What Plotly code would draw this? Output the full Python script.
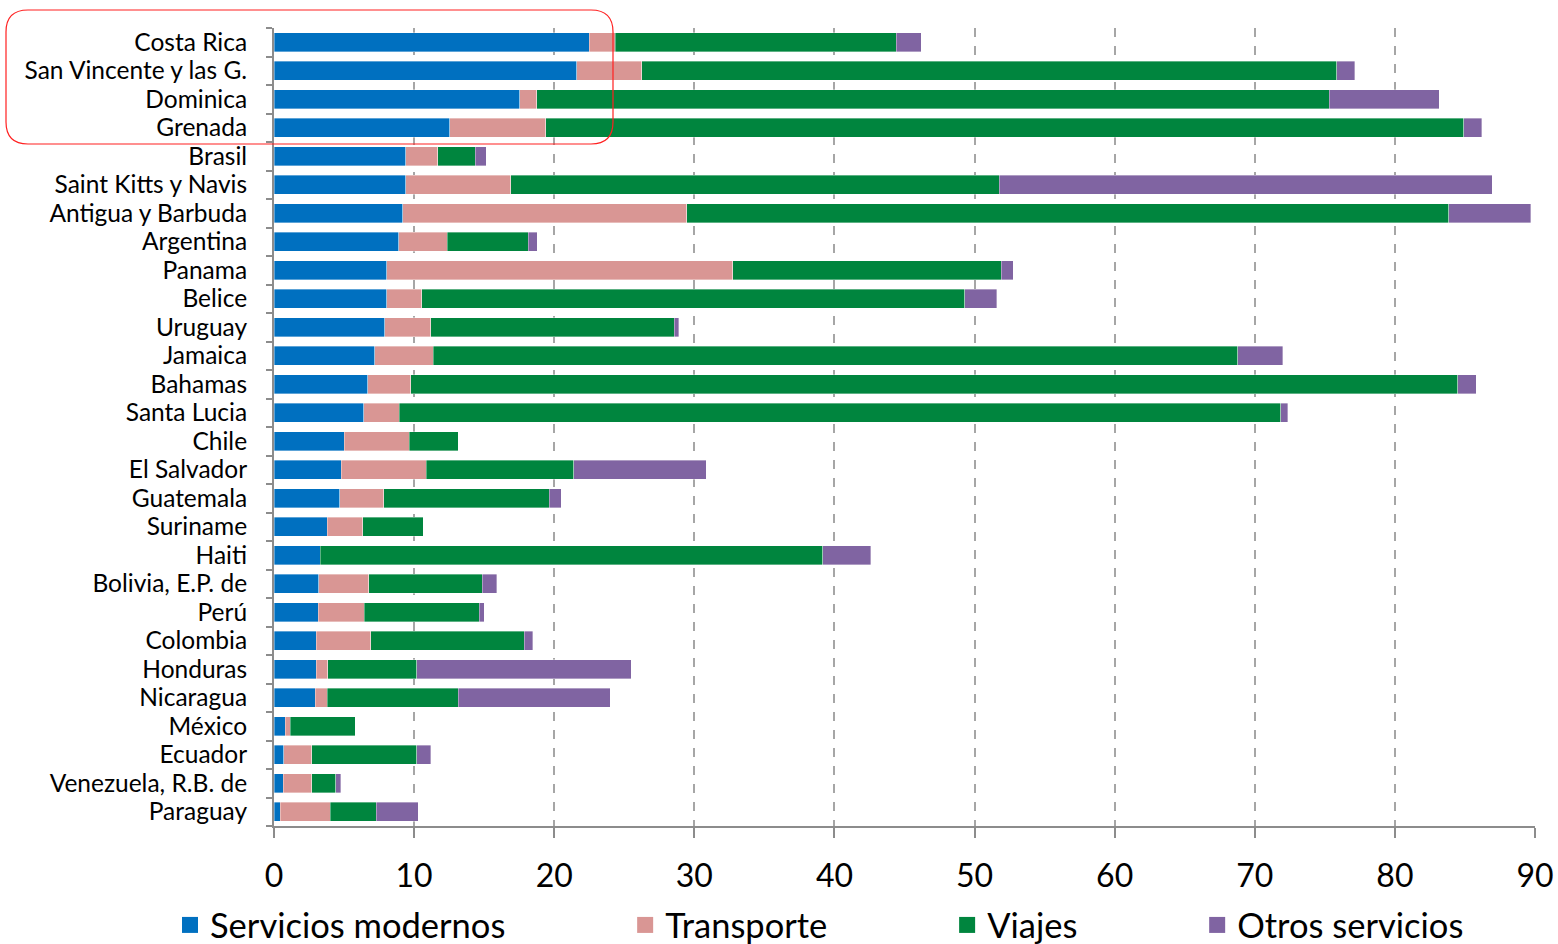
import plotly.graph_objects as go

paises = ["Costa Rica", "San Vincente y las G.", "Dominica", "Grenada", "Brasil",
          "Saint Kitts y Navis", "Antigua y Barbuda", "Argentina", "Panama", "Belice",
          "Uruguay", "Jamaica", "Bahamas", "Santa Lucia", "Chile", "El Salvador",
          "Guatemala", "Suriname", "Haiti", "Bolivia, E.P. de", "Perú", "Colombia",
          "Honduras", "Nicaragua", "México", "Ecuador", "Venezuela, R.B. de", "Paraguay"]

servicios_modernos = [22.5, 21.6, 17.55, 12.55, 9.4, 9.4, 9.2, 8.9, 8.05, 8.05,
                      7.9, 7.2, 6.7, 6.4, 5.0, 4.8, 4.7, 3.8, 3.3, 3.2,
                      3.15, 3.0, 3.0, 2.95, 0.8, 0.7, 0.65, 0.45]
transporte = [1.85, 4.65, 1.2, 6.85, 2.3, 7.5, 20.25, 3.45, 24.7, 2.5,
              3.3, 4.15, 3.05, 2.55, 4.65, 6.05, 3.15, 2.55, 0.0, 3.55,
              3.3, 3.9, 0.85, 0.85, 0.35, 2.0, 2.05, 3.55]
viajes = [20.05, 49.6, 56.55, 65.5, 2.65, 34.85, 54.4, 5.8, 19.15, 38.75,
          17.35, 57.45, 74.75, 62.9, 3.5, 10.55, 11.8, 4.3, 35.85, 8.1,
          8.2, 10.95, 6.35, 9.35, 4.65, 7.5, 1.7, 3.3]
otros_servicios = [1.8, 1.3, 7.85, 1.3, 0.8, 35.2, 5.85, 0.65, 0.85, 2.3,
                   0.35, 3.2, 1.3, 0.5, 0.0, 9.45, 0.85, 0.0, 3.45, 1.05,
                   0.35, 0.6, 15.3, 10.85, 0.0, 1.0, 0.35, 3.0]

x_ticks = [0, 10, 20, 30, 40, 50, 60, 70, 80, 90]

series_names = ["Servicios modernos", "Transporte", "Viajes", "Otros servicios"]
series_values = [servicios_modernos, transporte, viajes, otros_servicios]
series_colors = ["#0070C0", "#D99694", "#00853E", "#8064A2"]

FONT = "Lato"
pad = "\u00a0" * 13

fig = go.Figure()
for name, vals, color in zip(series_names, series_values, series_colors):
    fig.add_trace(go.Bar(
        y=paises, x=vals, name=name, orientation="h", showlegend=False,
        marker=dict(color=color, line=dict(color="rgba(255,255,255,0.6)", width=0.6)),
    ))
# legend proxies (square swatches)
for i, (name, color) in enumerate(zip(series_names, series_colors)):
    label = name + (pad if i < len(series_names) - 1 else "")
    fig.add_trace(go.Scatter(
        x=[None], y=[None], mode="markers", name=label,
        marker=dict(symbol="square", size=20, color=color),
    ))

W, H = 1558, 944
L, R, T, B = 274, 1535, 28, 826
pw, ph = R - L, B - T

def px(X):
    return (X - L) / pw

def py(Y):
    return (B - Y) / ph

# rounded rectangle highlighting the top group
x0, x1, y0, y1, r = 6, 613, 10, 144, 22
rx, ry = r / pw, r / ph
path = (f"M {px(x0)+rx},{py(y0)} L {px(x1)-rx},{py(y0)} "
        f"Q {px(x1)},{py(y0)} {px(x1)},{py(y0)-ry} "
        f"L {px(x1)},{py(y1)+ry} Q {px(x1)},{py(y1)} {px(x1)-rx},{py(y1)} "
        f"L {px(x0)+rx},{py(y1)} Q {px(x0)},{py(y1)} {px(x0)},{py(y1)+ry} "
        f"L {px(x0)},{py(y0)-ry} Q {px(x0)},{py(y0)} {px(x0)+rx},{py(y0)} Z")

fig.update_layout(
    width=W, height=H,
    margin=dict(l=L, r=W - R, t=T, b=H - B, pad=0, autoexpand=False),
    barmode="stack", bargap=0.33,
    plot_bgcolor="white", paper_bgcolor="white",
    font=dict(family=FONT, color="black"),
    showlegend=True,
    legend=dict(orientation="h", x=px(170), xanchor="left", y=py(925), yanchor="middle",
                font=dict(size=34.5, family=FONT), traceorder="normal",
                itemwidth=30, tracegroupgap=0, bgcolor="rgba(0,0,0,0)"),
    xaxis=dict(range=[0, 90], tickvals=x_ticks, ticktext=[str(v) for v in x_ticks],
               showgrid=True, gridcolor="#A6A6A6", griddash="dash", gridwidth=1.5,
               showline=True, linecolor="#8C8C8C", linewidth=2,
               ticks="outside", ticklen=10, tickcolor="#8C8C8C", tickwidth=2,
               tickfont=dict(size=32, family=FONT), ticklabelstandoff=11,
               zeroline=False, fixedrange=True),
    yaxis=dict(type="category", autorange="reversed", showline=True, linecolor="#8C8C8C",
               linewidth=2, ticks="outside", tickson="boundaries", ticklen=6,
               tickmode="array", tickvals=paises, ticktext=paises,
               tickcolor="#8C8C8C", tickwidth=2, tickfont=dict(size=24.5, family=FONT),
               ticklabelstandoff=20, showgrid=False, fixedrange=True),
    shapes=[dict(type="path", path=path, xref="paper", yref="paper",
                 line=dict(color="#FF2020", width=1.2), fillcolor="rgba(0,0,0,0)")],
)

fig.write_html(
    "out.html",
    config={"displayModeBar": False},
    post_script="document.body.style.margin='0';document.body.style.overflow='hidden';",
)
